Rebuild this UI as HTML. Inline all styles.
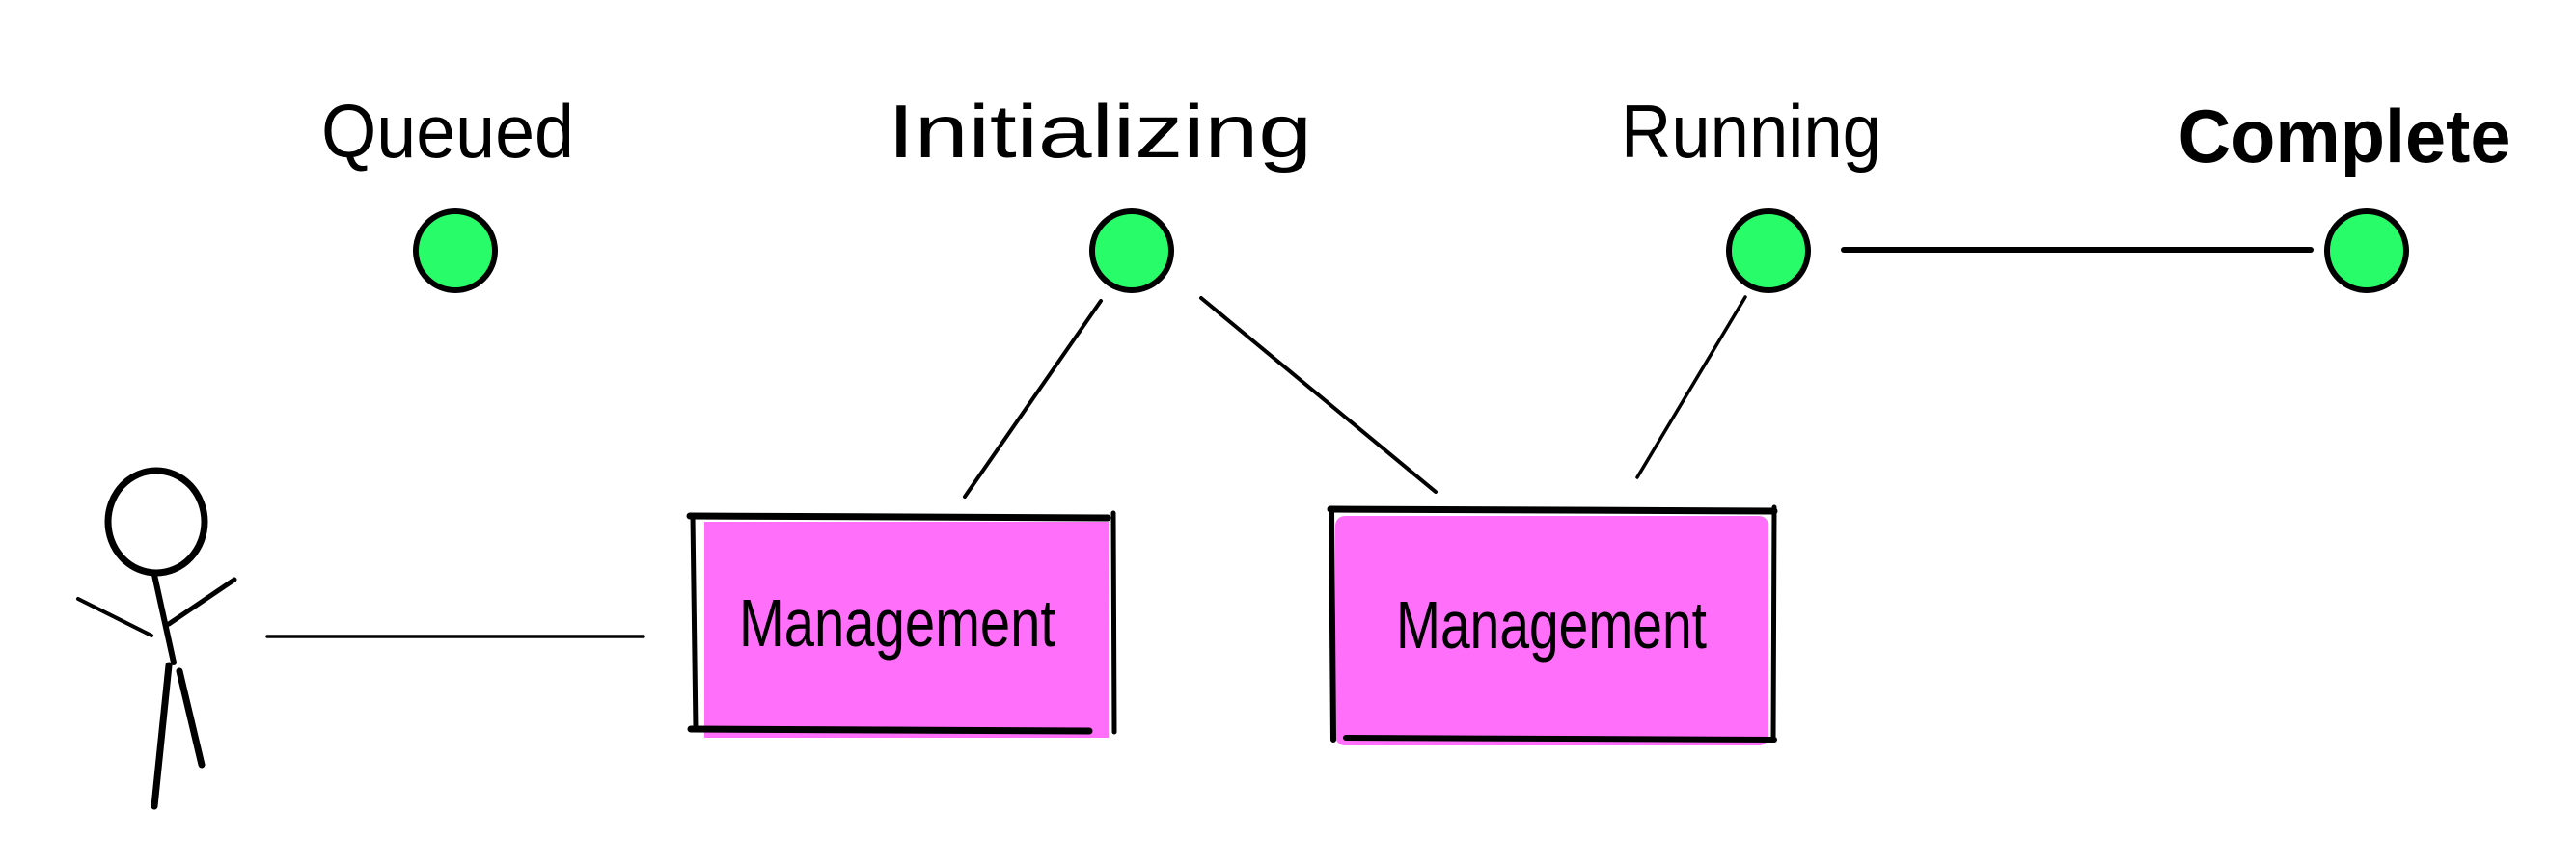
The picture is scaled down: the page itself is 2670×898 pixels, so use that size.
<!DOCTYPE html>
<html><head><meta charset="utf-8"><style>
html,body{margin:0;padding:0;background:#fff;width:2670px;height:898px;overflow:hidden}
svg{display:block}
text{font-family:"Liberation Sans",sans-serif;fill:#000}
</style></head><body>
<svg width="2670" height="898" viewBox="0 0 2670 898" xmlns="http://www.w3.org/2000/svg">
<g fill="#28fc68" stroke="#000" stroke-width="6">
<ellipse cx="472" cy="260" rx="41" ry="41"/>
<ellipse cx="1173" cy="260" rx="41" ry="41"/>
<ellipse cx="1833" cy="260" rx="41" ry="41"/>
<ellipse cx="2453" cy="260" rx="41" ry="41"/>
</g>
<g font-size="78" text-anchor="middle">
<text x="464" y="163" textLength="262" lengthAdjust="spacingAndGlyphs">Queued</text>
<text x="1140" y="163" textLength="440" lengthAdjust="spacingAndGlyphs">Initializing</text>
<text x="1815" y="163" textLength="270" lengthAdjust="spacingAndGlyphs">Running</text>
<text x="2430" y="168" textLength="345" lengthAdjust="spacingAndGlyphs" font-weight="bold">Complete</text>
</g>
<g stroke="#000" stroke-linecap="round" fill="none">
<line x1="1141" y1="312" x2="1000" y2="515" stroke-width="4"/>
<line x1="1245" y1="309" x2="1488" y2="510" stroke-width="4"/>
<line x1="1809" y1="308" x2="1697" y2="495" stroke-width="3.5"/>
<line x1="1911" y1="259" x2="2395" y2="259" stroke-width="6"/>
<line x1="277" y1="660" x2="667" y2="660" stroke-width="3.5"/>
</g>
<rect x="730" y="541" width="419" height="224" fill="#ff6ff9"/>
<rect x="1384" y="535" width="449" height="238" rx="10" fill="#ff6ff9"/>
<g stroke="#000" fill="none" stroke-linecap="round">
<line x1="715" y1="535" x2="1148" y2="537" stroke-width="7"/>
<line x1="718" y1="535" x2="721" y2="757" stroke-width="5"/>
<line x1="1154" y1="532" x2="1155" y2="759" stroke-width="5"/>
<line x1="716" y1="756" x2="1129" y2="758" stroke-width="7"/>
<line x1="1379" y1="528" x2="1839" y2="530" stroke-width="7"/>
<line x1="1380" y1="530" x2="1382" y2="767" stroke-width="6"/>
<line x1="1839" y1="526" x2="1838" y2="767" stroke-width="5"/>
<line x1="1395" y1="765" x2="1839" y2="767" stroke-width="6"/>
</g>
<g font-size="70" text-anchor="middle">
<text x="930" y="670" textLength="328" lengthAdjust="spacingAndGlyphs">Management</text>
<text x="1608" y="672" textLength="322" lengthAdjust="spacingAndGlyphs">Management</text>
</g>
<g stroke="#000" fill="none" stroke-linecap="round" stroke-width="7">
<ellipse cx="162" cy="541" rx="50" ry="53"/>
<line x1="160" y1="596" x2="180" y2="687" stroke-width="6"/>
<line x1="81" y1="621" x2="157" y2="659" stroke-width="4"/>
<line x1="243" y1="601" x2="175" y2="647" stroke-width="5"/>
<line x1="175" y1="690" x2="160" y2="836" stroke-width="7"/>
<line x1="186" y1="696" x2="209" y2="793" stroke-width="7"/>
</g>
</svg>
</body></html>
